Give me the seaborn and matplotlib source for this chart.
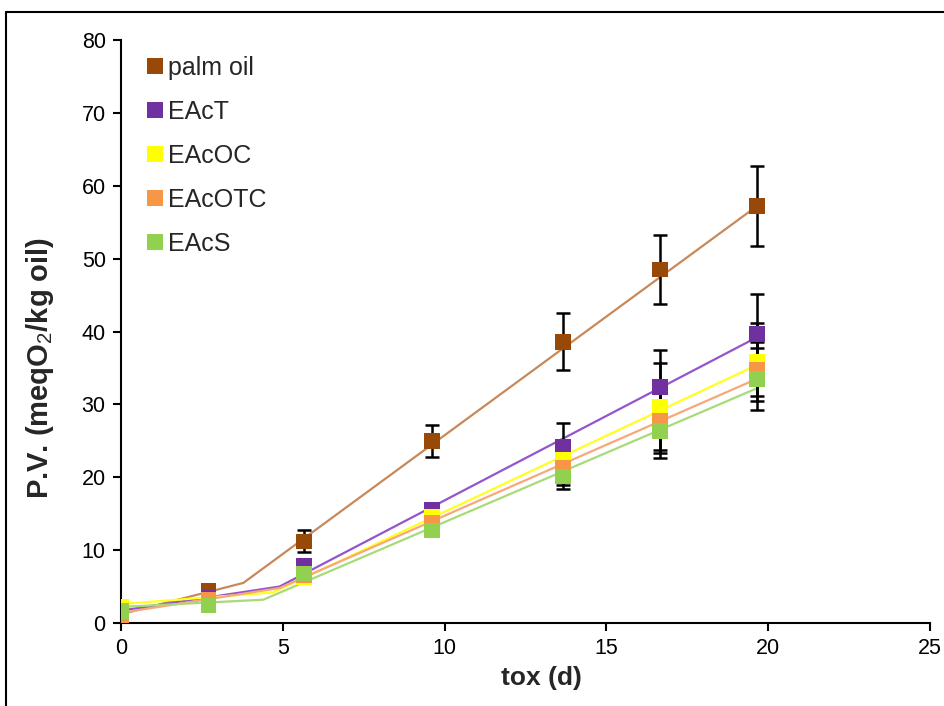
import numpy as np
import pandas as pd
import matplotlib
matplotlib.use("Agg")
import matplotlib.pyplot as plt
from matplotlib.lines import Line2D
import seaborn as sns

# Storage time (days) and peroxide values
days = [0, 2.7, 5.65, 9.6, 13.65, 16.65, 19.65]
series = ["palm oil", "EAcT", "EAcOC", "EAcOTC", "EAcS"]

pv_palm = [0.5, 4.4, 11.2, 25.0, 38.6, 48.5, 57.2]
pv_eact = [1.5, 3.4, 7.8, 15.5, 24.2, 32.4, 39.7]
pv_eacoc = [2.2, 3.0, 6.3, 14.5, 22.4, 29.7, 35.8]
pv_eacotc = [0.5, 3.2, 6.6, 13.8, 21.3, 27.8, 34.8]
pv_eacs = [1.6, 2.4, 6.8, 12.7, 20.1, 26.3, 33.5]

sd_palm = [0.3, 0.4, 1.5, 2.2, 3.9, 4.7, 5.5]
sd_eact = [0.3, 0.3, 0.6, 0.8, 3.3, 5.0, 5.4]
sd_eacoc = [0.3, 0.3, 0.5, 0.7, 2.5, 6.0, 5.4]
sd_eacotc = [0.3, 0.3, 0.5, 0.7, 2.4, 4.5, 3.7]
sd_eacs = [0.3, 0.3, 0.5, 0.7, 1.7, 3.7, 4.3]

# Two-segment kinetic fits (start, break point, end)
fit_x_palm = [0, 3.78, 19.65]
fit_y_palm = [1.2, 5.5, 57.2]
fit_x_eact = [0, 4.9, 19.65]
fit_y_eact = [1.7, 5.0, 39.2]
fit_x_eacoc = [0, 4.7, 19.65]
fit_y_eacoc = [2.6, 4.2, 35.4]
fit_x_eacotc = [0, 4.9, 19.65]
fit_y_eacotc = [1.4, 4.8, 33.5]
fit_x_eacs = [0, 4.4, 19.65]
fit_y_eacs = [2.2, 3.2, 32.2]

marker_colors = ["#984807", "#7030A0", "#FFFF00", "#F79646", "#92D050"]
line_colors = ["#C8885A", "#9455CC", "#FFFF20", "#F8A878", "#A8DA78"]

pv_all = [pv_palm, pv_eact, pv_eacoc, pv_eacotc, pv_eacs]
sd_all = [sd_palm, sd_eact, sd_eacoc, sd_eacotc, sd_eacs]
fx_all = [fit_x_palm, fit_x_eact, fit_x_eacoc, fit_x_eacotc, fit_x_eacs]
fy_all = [fit_y_palm, fit_y_eact, fit_y_eacoc, fit_y_eacotc, fit_y_eacs]

obs = pd.concat(
    [pd.DataFrame({"day": days, "pv": v, "sd": s, "sample": n})
     for n, v, s in zip(series, pv_all, sd_all)],
    ignore_index=True,
)
fits = pd.concat(
    [pd.DataFrame({"day": fx, "pv": fy, "sample": n})
     for n, fx, fy in zip(series, fx_all, fy_all)],
    ignore_index=True,
)

sns.set_theme(style="ticks")
plt.rcParams["font.family"] = ["Liberation Sans", "DejaVu Sans"]
plt.rcParams["mathtext.fontset"] = "custom"
plt.rcParams["mathtext.rm"] = "Liberation Sans"
plt.rcParams["mathtext.bf"] = "Liberation Sans:bold"

fig = plt.figure(figsize=(9.44, 7.06), dpi=100)
ax = fig.add_axes([121 / 944, 1 - 623 / 706, (930 - 121) / 944, (623 - 40) / 706])

# fitted lines
sns.lineplot(data=fits, x="day", y="pv", hue="sample", hue_order=series,
             palette=line_colors, linewidth=1.6, legend=False, ax=ax,
             sort=False, estimator=None, zorder=2)

# error bars behind markers
for n in series:
    d = obs[obs["sample"] == n]
    ax.errorbar(d["day"], d["pv"], yerr=d["sd"], fmt="none", ecolor="black",
                elinewidth=1.8, capsize=5, capthick=1.8, zorder=3)

# measured points
sns.scatterplot(data=obs, x="day", y="pv", hue="sample", hue_order=series,
                palette=marker_colors, marker="s", s=128, linewidth=0,
                legend=False, ax=ax, zorder=4)

ax.set_xlim(0, 25)
ax.set_ylim(0, 80)
ax.set_xticks(np.arange(0, 26, 5))
ax.set_yticks(np.arange(0, 81, 10))
ax.tick_params(axis="both", direction="out", length=6, width=1.5,
               labelsize=15.5, colors="black", pad=5)
for side in ["top", "right"]:
    ax.spines[side].set_visible(False)
for side in ["left", "bottom"]:
    ax.spines[side].set_linewidth(1.5)
    ax.spines[side].set_color("black")
ax.set_facecolor("white")

ax.set_xlabel("tox (d)", fontsize=19, fontweight="bold")
ax.set_ylabel(r"P.V. (meqO$_2$/kg oil)", fontsize=21, fontweight="bold")
ax.xaxis.set_label_coords((541 - 121) / 809, (623 - 666) / 583)
ax.yaxis.set_label_coords((56 - 121) / 809, (623 - 368) / 583)

handles = [Line2D([], [], marker="s", linestyle="none", markersize=11.5,
                  markerfacecolor=c, markeredgewidth=0) for c in marker_colors]
ax.legend(handles, series, loc="upper left",
          bbox_to_anchor=(146 / 944, 1 - 56 / 706), bbox_transform=fig.transFigure,
          frameon=False, fontsize=18, handlelength=0.7, handletextpad=0.17,
          labelspacing=0.8, borderpad=0, borderaxespad=0)

# frame around the figure area (top and left edges)
fig.add_artist(Line2D([6 / 944, 1], [1 - 12 / 706, 1 - 12 / 706], color="black",
                      linewidth=1.5, transform=fig.transFigure))
fig.add_artist(Line2D([6 / 944, 6 / 944], [0, 1 - 12 / 706], color="black",
                      linewidth=1.5, transform=fig.transFigure))

fig.savefig("out.png", dpi=100, facecolor="white")
